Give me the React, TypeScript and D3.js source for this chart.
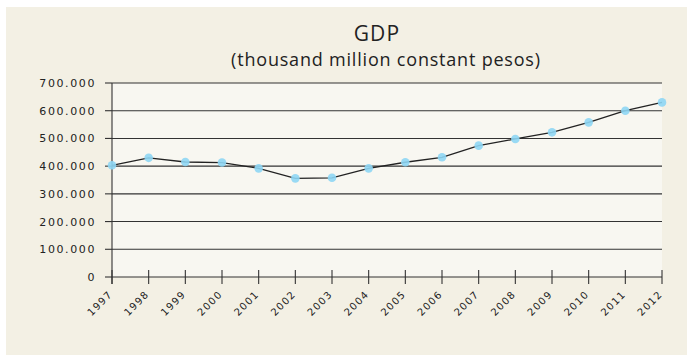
import React from "react";
import * as d3 from "d3";

const years = ["1997","1998","1999","2000","2001","2002","2003","2004","2005","2006","2007","2008","2009","2010","2011","2012"];
const gdp = [403, 430, 415, 413, 392, 356, 358, 392, 414, 432, 474, 498, 522, 558, 600, 630];
const yTicks = [0, 100, 200, 300, 400, 500, 600, 700];
const yTickLabels = ["0","100.000","200.000","300.000","400.000","500.000","600.000","700.000"];

const W = 687, H = 356;
const left = 112, right = 662, top = 83, bottom = 277;
const font = "'Open Sans', sans-serif";
const tickFont = "'DejaVu Sans', sans-serif";

export default function App() {
  const x = d3.scalePoint<string>().domain(years).range([left, right]);
  const y = d3.scaleLinear().domain([0, 700]).range([bottom, top]);
  const line = d3.line<number>().x((_, i) => x(years[i])!).y(d => y(d));
  return (
    <svg width={W} height={H} style={{ position: "absolute", left: 0, top: 0 }}>
      <rect x={0} y={0} width={W} height={H} fill="#ffffff" />
      <rect x={6} y={7} width={W - 6} height={H - 8} fill="#f3f0e4" />
      <rect x={left} y={top} width={right - left} height={bottom - top} fill="#f8f7f1" />
      <text x={377} y={41} textAnchor="middle" fontFamily={font} fontSize={21} letterSpacing={1.2} fill="#222">GDP</text>
      <text x={386} y={66} textAnchor="middle" fontFamily={font} fontSize={18} letterSpacing={0.8} fill="#222">(thousand million constant pesos)</text>
      {yTicks.map((t, i) => (
        <g key={t}>
          {t > 0 && <line x1={left} x2={right} y1={y(t)} y2={y(t)} stroke="#333" strokeWidth={1.1} />}
          <line x1={left - 7} x2={left} y1={y(t)} y2={y(t)} stroke="#333" strokeWidth={1.1} />
          <text x={96} y={y(t) + 4} textAnchor="end" fontFamily={tickFont} fontSize={11} letterSpacing={1.6} fill="#222">{yTickLabels[i]}</text>
        </g>
      ))}
      <line x1={left} x2={left} y1={top} y2={bottom + 7} stroke="#333" strokeWidth={1.1} />
      <line x1={left} x2={right} y1={bottom} y2={bottom} stroke="#333" strokeWidth={1.1} />
      {years.map(yr => (
        <g key={yr}>
          <line x1={x(yr)!} x2={x(yr)!} y1={bottom - 7} y2={bottom + 7} stroke="#333" strokeWidth={1.1} />
          <text transform={`translate(${x(yr)! + 1},${bottom + 18}) rotate(-45)`} textAnchor="end" fontFamily={tickFont} fontSize={10} letterSpacing={1.2} fill="#222">{yr}</text>
        </g>
      ))}
      <path d={line(gdp)!} fill="none" stroke="#222" strokeWidth={1.3} />
      {gdp.map((v, i) => (
        <circle key={i} cx={x(years[i])!} cy={y(v)} r={4.3} fill="#8ed6f4" opacity={0.9} />
      ))}
    </svg>
  );
}
